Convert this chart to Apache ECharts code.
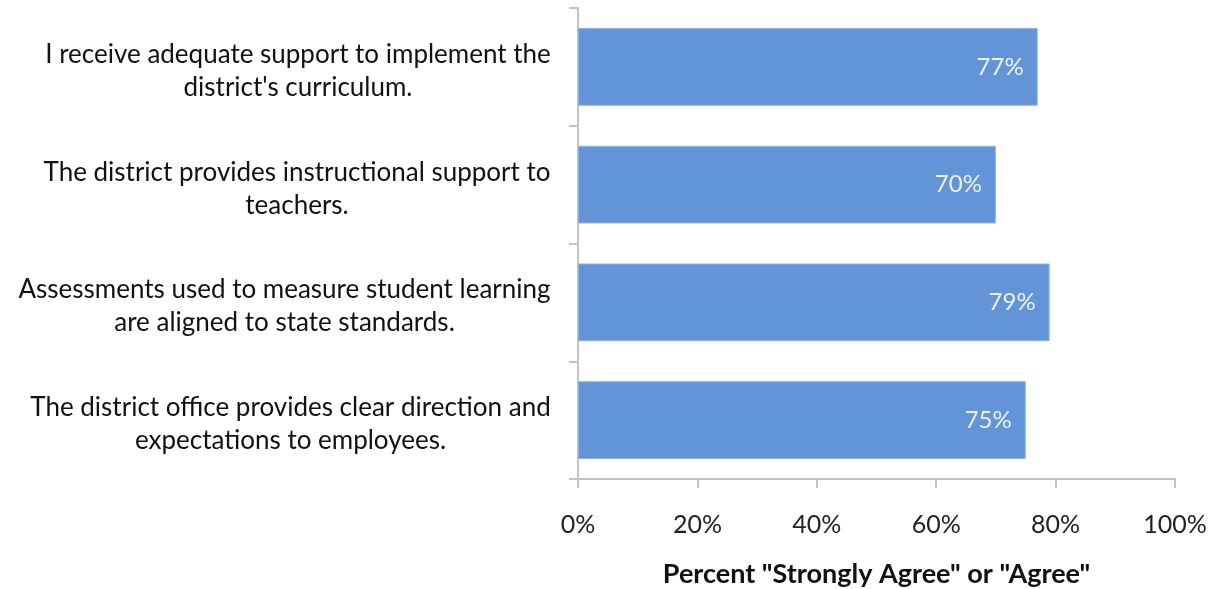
<!DOCTYPE html>
<html><head><meta charset="utf-8">
<script src="https://cdn.jsdelivr.net/npm/echarts@6/dist/echarts.min.js"></script>
<style>html,body{margin:0;padding:0;background:#fff}#c{width:1209px;height:589px}</style>
</head><body><div id="c"></div>
<script>
const categories = [
  "I receive adequate support to implement the\ndistrict's curriculum.",
  "The district provides instructional support to\nteachers.",
  "Assessments used to measure student learning\nare aligned to state standards.",
  "The district office provides clear direction and\nexpectations to employees."
];
const values = [77, 70, 79, 75];
const xTicks = [0, 20, 40, 60, 80, 100];
const axisTitle = 'Percent "Strongly Agree" or "Agree"';

const FONT = 'Lato';
const CAT_SIZE = 26;
const cv = document.createElement('canvas').getContext('2d');
cv.font = CAT_SIZE + 'px ' + FONT;
const rich = {};
categories.forEach((c, i) => {
  const w = Math.max(...c.split('\n').map(l => cv.measureText(l).width));
  rich['w' + i] = {width: Math.ceil(w) + 2, align: 'center', fontSize: CAT_SIZE, fontFamily: FONT, lineHeight: 33, color: '#111'};
});

const chart = echarts.init(document.getElementById('c'));
chart.setOption({
  animation: false,
  grid: {left: 578, right: 34, top: 8, bottom: 110, containLabel: false, outerBoundsMode: 'none'},
  xAxis: {
    type: 'value', min: xTicks[0], max: xTicks[xTicks.length - 1], interval: 20,
    axisLine: {show: true, lineStyle: {color: '#c3c3c3', width: 2}},
    axisTick: {show: true, length: 9, lineStyle: {color: '#c3c3c3', width: 2}},
    splitLine: {show: false},
    axisLabel: {formatter: v => v + '%', margin: 33, fontSize: 25, fontFamily: FONT, color: '#222'},
    name: axisTitle, nameLocation: 'middle', nameGap: 82,
    nameTextStyle: {fontSize: 27, fontWeight: 'bold', fontFamily: FONT, color: '#111'}
  },
  yAxis: {
    type: 'category', data: categories, inverse: true,
    axisLine: {show: true, lineStyle: {color: '#c3c3c3', width: 2}},
    axisTick: {show: true, length: 9, lineStyle: {color: '#c3c3c3', width: 2}},
    axisLabel: {
      margin: 26, align: 'right', padding: [8, 0, 0, 0],
      formatter: (v, i) => v.split('\n').map(l => '{w' + i + '|' + l + '}').join('\n'),
      rich: rich
    }
  },
  series: [{
    type: 'bar', data: values, barCategoryGap: '34%',
    itemStyle: {color: '#6394d7', borderColor: '#8db1e6', borderWidth: 1},
    label: {show: true, position: 'insideRight', distance: 14, formatter: p => p.value + '%',
      color: 'rgba(255,255,255,0.88)', fontSize: 24, fontFamily: FONT}
  }]
});
</script></body></html>
